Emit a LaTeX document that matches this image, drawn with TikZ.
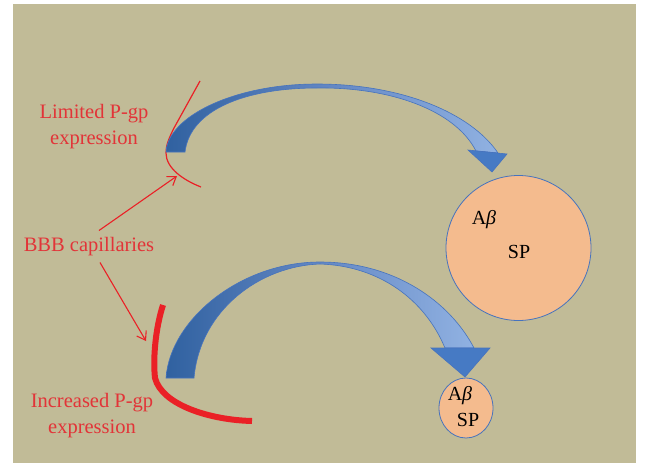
\documentclass[tikz,border=0pt]{standalone}
\usepackage{fontspec}
\setmainfont{Liberation Serif}
\usetikzlibrary{arrows.meta,shapes.geometric}
\definecolor{khaki}{RGB}{193,187,151}
\definecolor{redl}{RGB}{234,32,38}
\definecolor{redt}{RGB}{226,52,56}
\definecolor{bdark}{RGB}{48,97,160}
\definecolor{bmid}{RGB}{100,136,196}
\definecolor{blight}{RGB}{145,178,226}
\definecolor{bhead}{RGB}{70,122,196}
\definecolor{bline}{RGB}{70,115,190}
\definecolor{peach}{RGB}{244,187,142}
\begin{document}
\begin{tikzpicture}[x=1pt,y=-1pt,
  lbl/.style={text=redt, font=\fontsize{20.5}{26}\selectfont, align=center, inner sep=0pt},
  cell/.style={font=\fontsize{20}{22}\selectfont, inner sep=0pt},
  ribbon/.style={draw=bline, line width=0.6pt, left color=bdark, right color=blight, middle color=bmid},
  headtri/.style={draw=bline, line width=0.6pt, fill=bhead},
  thinred/.style={draw=redl, line width=1.2pt},
  thickred/.style={draw=redl, line width=6pt},
  pointer/.style={draw=redl, line width=1.1pt, -{Straight Barb[length=8pt,width=11pt]}},
  bubble/.style={draw=bline, line width=0.8pt, fill=peach}
]
\useasboundingbox (0,0) rectangle (648,463);
\fill[khaki] (13,4) rectangle (636,463);

% red membrane curves
\draw[thinred] (200,81) -- (174,128) .. controls (168,140) and (166,146) .. (166,153)
   .. controls (166,168) and (183,180) .. (201,187);
\draw[thickred] (163,305) .. controls (155,330) and (153,360) .. (155,378)
   .. controls (162,405) and (210,420) .. (252,421);

% upper curved arrow
\path[ribbon] (166,152) .. controls (168,116) and (235,84) .. (317,84)
   .. controls (400,84) and (470,112) .. (498,153)
   -- (476,151) .. controls (455,110) and (390,87) .. (317,88)
   .. controls (245,88) and (190,110) .. (185,152) -- cycle;
\path[headtri] (468,150) -- (507,154) -- (492,172) -- cycle;

% lower curved arrow
\path[ribbon] (166,378) .. controls (170,320) and (240,262) .. (320,262)
   .. controls (395,262) and (450,302) .. (474,348)
   -- (445,348) .. controls (425,300) and (380,266) .. (320,264)
   .. controls (260,266) and (200,310) .. (194,378) -- cycle;
\path[headtri] (431,348) -- (490,348) -- (465,377) -- cycle;

% cells
\node[bubble, circle, minimum size=145pt, inner sep=0pt] (big) at (518.5,248) {};
\node[cell] (bigab) at (484,220) {A\textit{β}};
\node[cell] (bigsp) at (519,252) {SP};
\node[bubble, ellipse, minimum width=54pt, minimum height=60pt, inner sep=0pt] (small) at (466,408) {};
\node[cell] (smallab) at (460,396) {A\textit{β}};
\node[cell] (smallsp) at (468,420) {SP};

% labels
\node[lbl] (limited) at (94,127) {Limited P-gp\\expression};
\node[lbl] (bbb) at (89,247) {BBB capillaries};
\node[lbl] (increased) at (92,416) {Increased P-gp\\expression};

\coordinate (tipA) at (177,176);
\coordinate (tipB) at (146,341);
\draw[pointer] ([xshift=10pt,yshift=7pt]bbb.north) -- (tipA);
\draw[pointer] ([xshift=11pt,yshift=-6pt]bbb.south) -- (tipB);
\end{tikzpicture}
\end{document}
